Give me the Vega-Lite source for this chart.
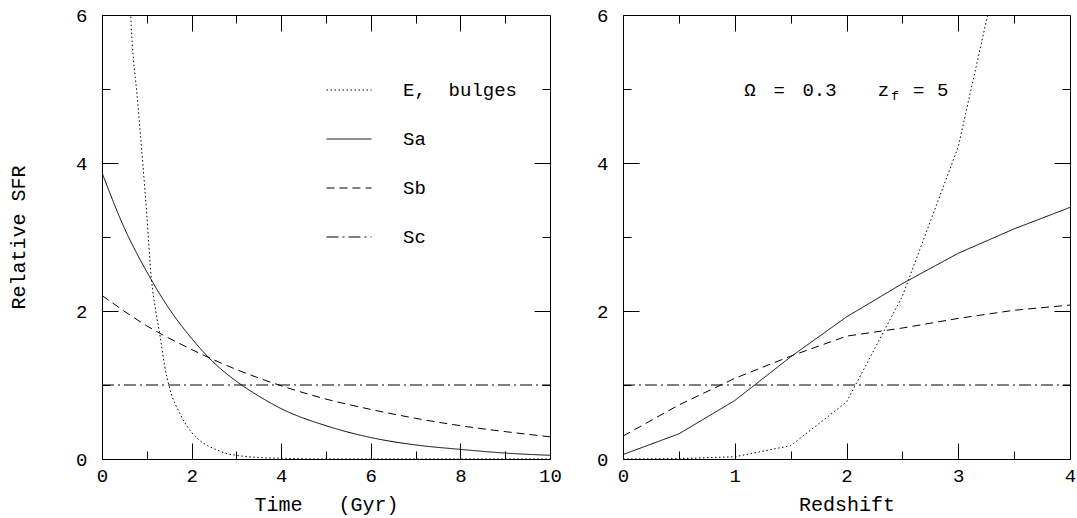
{
  "$schema": "https://vega.github.io/schema/vega-lite/v6.json",
  "background": "white",
  "padding": {"left": 8, "top": 5, "right": 1, "bottom": 2},
  "bounds": "flush",
  "spacing": 73,
  "config": {
    "font": "Liberation Mono",
    "view": {"stroke": "black", "strokeWidth": 1},
    "axis": {
      "grid": false, "domain": false,
      "labelFont": "Liberation Mono", "labelFontSize": 19, "labelColor": "black",
      "titleFont": "Liberation Mono", "titleFontSize": 20, "titleFontWeight": "normal", "titleColor": "black",
      "tickColor": "black", "tickWidth": 1
    },
    "text": {"font": "Liberation Mono", "color": "black"}
  },
  "datasets": {
    "time": [
      {"series": "E, bulges", "x": 0, "y": 23},
      {"series": "E, bulges", "x": 0.25, "y": 13.5},
      {"series": "E, bulges", "x": 0.5, "y": 8.5},
      {"series": "E, bulges", "x": 0.64, "y": 6.0},
      {"series": "E, bulges", "x": 0.8, "y": 4.8},
      {"series": "E, bulges", "x": 0.91, "y": 4.0},
      {"series": "E, bulges", "x": 1.0, "y": 3.3},
      {"series": "E, bulges", "x": 1.1, "y": 2.45},
      {"series": "E, bulges", "x": 1.2, "y": 2.0},
      {"series": "E, bulges", "x": 1.3, "y": 1.65},
      {"series": "E, bulges", "x": 1.4, "y": 1.25},
      {"series": "E, bulges", "x": 1.5, "y": 0.98},
      {"series": "E, bulges", "x": 1.75, "y": 0.6},
      {"series": "E, bulges", "x": 2.0, "y": 0.36},
      {"series": "E, bulges", "x": 2.25, "y": 0.22},
      {"series": "E, bulges", "x": 2.5, "y": 0.14},
      {"series": "E, bulges", "x": 2.75, "y": 0.08},
      {"series": "E, bulges", "x": 3.0, "y": 0.05},
      {"series": "E, bulges", "x": 3.5, "y": 0.02},
      {"series": "E, bulges", "x": 4, "y": 0.01},
      {"series": "E, bulges", "x": 5, "y": 0},
      {"series": "E, bulges", "x": 6, "y": 0},
      {"series": "E, bulges", "x": 7, "y": 0},
      {"series": "E, bulges", "x": 8, "y": 0},
      {"series": "E, bulges", "x": 9, "y": 0},
      {"series": "E, bulges", "x": 10, "y": 0},
      {"series": "Sa", "x": 0, "y": 3.87},
      {"series": "Sa", "x": 0.5, "y": 3.12},
      {"series": "Sa", "x": 1, "y": 2.53},
      {"series": "Sa", "x": 1.5, "y": 2.03},
      {"series": "Sa", "x": 2, "y": 1.63},
      {"series": "Sa", "x": 2.5, "y": 1.30},
      {"series": "Sa", "x": 3, "y": 1.05},
      {"series": "Sa", "x": 3.5, "y": 0.85},
      {"series": "Sa", "x": 4, "y": 0.68},
      {"series": "Sa", "x": 5, "y": 0.45},
      {"series": "Sa", "x": 6, "y": 0.29},
      {"series": "Sa", "x": 7, "y": 0.19},
      {"series": "Sa", "x": 8, "y": 0.13},
      {"series": "Sa", "x": 9, "y": 0.08},
      {"series": "Sa", "x": 10, "y": 0.05},
      {"series": "Sb", "x": 0, "y": 2.21},
      {"series": "Sb", "x": 1, "y": 1.80},
      {"series": "Sb", "x": 2, "y": 1.48},
      {"series": "Sb", "x": 3, "y": 1.21},
      {"series": "Sb", "x": 4, "y": 0.99},
      {"series": "Sb", "x": 5, "y": 0.81},
      {"series": "Sb", "x": 6, "y": 0.67},
      {"series": "Sb", "x": 7, "y": 0.55},
      {"series": "Sb", "x": 8, "y": 0.45},
      {"series": "Sb", "x": 9, "y": 0.37},
      {"series": "Sb", "x": 10, "y": 0.30},
      {"series": "Sc", "x": 0, "y": 1},
      {"series": "Sc", "x": 10, "y": 1}
    ],
    "redshift": [
      {"series": "E, bulges", "x": 0, "y": 0},
      {"series": "E, bulges", "x": 0.5, "y": 0.005},
      {"series": "E, bulges", "x": 1, "y": 0.03},
      {"series": "E, bulges", "x": 1.5, "y": 0.18},
      {"series": "E, bulges", "x": 2, "y": 0.77},
      {"series": "E, bulges", "x": 2.5, "y": 2.2},
      {"series": "E, bulges", "x": 3, "y": 4.22},
      {"series": "E, bulges", "x": 3.5, "y": 7.6},
      {"series": "E, bulges", "x": 4, "y": 12},
      {"series": "Sa", "x": 0, "y": 0.06},
      {"series": "Sa", "x": 0.5, "y": 0.34},
      {"series": "Sa", "x": 1, "y": 0.79},
      {"series": "Sa", "x": 1.5, "y": 1.38},
      {"series": "Sa", "x": 2, "y": 1.92},
      {"series": "Sa", "x": 2.5, "y": 2.37},
      {"series": "Sa", "x": 3, "y": 2.78},
      {"series": "Sa", "x": 3.5, "y": 3.11},
      {"series": "Sa", "x": 4, "y": 3.40},
      {"series": "Sb", "x": 0, "y": 0.31},
      {"series": "Sb", "x": 0.5, "y": 0.73},
      {"series": "Sb", "x": 1, "y": 1.09},
      {"series": "Sb", "x": 1.5, "y": 1.39},
      {"series": "Sb", "x": 2, "y": 1.66},
      {"series": "Sb", "x": 2.5, "y": 1.77},
      {"series": "Sb", "x": 3, "y": 1.90},
      {"series": "Sb", "x": 3.5, "y": 2.01},
      {"series": "Sb", "x": 4, "y": 2.08},
      {"series": "Sc", "x": 0, "y": 1},
      {"series": "Sc", "x": 4, "y": 1}
    ],
    "note": [
      {"x": 1.086, "y": 5, "text": "Ω"},
      {"x": 1.346, "y": 5, "text": "="},
      {"x": 1.606, "y": 5, "text": "0.3"},
      {"x": 2.28, "y": 5, "text": "z"},
      {"x": 2.595, "y": 5, "text": "="},
      {"x": 2.81, "y": 5, "text": "5"}
    ],
    "sub": [
      {"x": 2.40, "y": 5, "text": "f"}
    ]
  },
  "resolve": {"scale": {"strokeDash": "independent"}, "legend": {"strokeDash": "independent"}},
  "hconcat": [
    {
      "width": 448, "height": 444,
      "data": {"name": "time"},
      "resolve": {"axis": {"x": "independent", "y": "independent"}},
      "layer": [
        {
          "mark": {"type": "line", "clip": true, "color": "black", "strokeWidth": 1, "interpolate": "monotone"},
          "encoding": {
            "x": {"field": "x", "type": "quantitative", "scale": {"domain": [0, 10], "nice": false, "zero": false},
                  "axis": {"orient": "bottom", "ticks": false, "values": [0, 2, 4, 6, 8, 10], "labelPadding": 7, "labelFlush": false, "labelOverlap": false, "labelBaseline": "top", "title": "Time\u00a0\u00a0\u00a0(Gyr)", "titlePadding": 9}},
            "y": {"field": "y", "type": "quantitative", "scale": {"domain": [0, 6], "nice": false, "zero": false},
                  "axis": {"orient": "left", "ticks": false, "values": [0, 2, 4, 6], "labelPadding": 15, "labelOverlap": false, "title": "Relative SFR", "titlePadding": 47}},
            "strokeDash": {"field": "series", "type": "nominal", "sort": null,
                           "scale": {"domain": ["E, bulges", "Sa", "Sb", "Sc"], "range": [[1.5, 2.5], [1, 0], [8, 5], [12, 4, 2, 4]]},
                           "legend": {"orient": "none", "legendX": 224, "legendY": 52, "title": null, "symbolType": "stroke", "symbolSize": 2025, "symbolStrokeColor": "black", "symbolStrokeWidth": 1, "labelFont": "Liberation Mono", "labelFontSize": 19, "labelColor": "black", "labelOffset": 31, "rowPadding": 16, "padding": 0,
                                      "labelExpr": "datum.label === 'E, bulges' ? 'E,\u00a0\u00a0bulges' : datum.label"}}
          }
        },
        {
          "transform": [{"filter": "datum.series === 'Sc'"}],
          "mark": {"type": "point", "opacity": 0},
          "encoding": {
            "x": {"field": "x", "type": "quantitative", "scale": {"domain": [0, 10], "nice": false, "zero": false},
                  "axis": {"orient": "bottom", "labels": false, "title": null, "values": [0, 2, 4, 6, 8, 10], "tickSize": -16}},
            "y": {"field": "y", "type": "quantitative", "scale": {"domain": [0, 6], "nice": false, "zero": false},
                  "axis": {"orient": "left", "labels": false, "title": null, "values": [0, 2, 4, 6], "tickSize": -16}}
          }
        },
        {
          "transform": [{"filter": "datum.series === 'Sc'"}],
          "mark": {"type": "point", "opacity": 0},
          "encoding": {
            "x": {"field": "x", "type": "quantitative", "scale": {"domain": [0, 10], "nice": false, "zero": false},
                  "axis": {"orient": "bottom", "labels": false, "title": null, "values": [1, 3, 5, 7, 9], "tickSize": -8}},
            "y": {"field": "y", "type": "quantitative", "scale": {"domain": [0, 6], "nice": false, "zero": false},
                  "axis": {"orient": "left", "labels": false, "title": null, "values": [1, 3, 5], "tickSize": -8}}
          }
        },
        {
          "transform": [{"filter": "datum.series === 'Sc'"}],
          "mark": {"type": "point", "opacity": 0},
          "encoding": {
            "x": {"field": "x", "type": "quantitative", "scale": {"domain": [0, 10], "nice": false, "zero": false},
                  "axis": {"orient": "top", "labels": false, "title": null, "values": [0, 2, 4, 6, 8, 10], "tickSize": -16}},
            "y": {"field": "y", "type": "quantitative", "scale": {"domain": [0, 6], "nice": false, "zero": false},
                  "axis": {"orient": "right", "labels": false, "title": null, "values": [0, 2, 4, 6], "tickSize": -16}}
          }
        },
        {
          "transform": [{"filter": "datum.series === 'Sc'"}],
          "mark": {"type": "point", "opacity": 0},
          "encoding": {
            "x": {"field": "x", "type": "quantitative", "scale": {"domain": [0, 10], "nice": false, "zero": false},
                  "axis": {"orient": "top", "labels": false, "title": null, "values": [1, 3, 5, 7, 9], "tickSize": -8}},
            "y": {"field": "y", "type": "quantitative", "scale": {"domain": [0, 6], "nice": false, "zero": false},
                  "axis": {"orient": "right", "labels": false, "title": null, "values": [1, 3, 5], "tickSize": -8}}
          }
        }
      ]
    },
    {
      "width": 447, "height": 444,
      "data": {"name": "redshift"},
      "resolve": {"axis": {"x": "independent", "y": "independent"}},
      "layer": [
        {
          "mark": {"type": "line", "clip": true, "color": "black", "strokeWidth": 1},
          "encoding": {
            "x": {"field": "x", "type": "quantitative", "scale": {"domain": [0, 4], "nice": false, "zero": false},
                  "axis": {"orient": "bottom", "ticks": false, "values": [0, 1, 2, 3, 4], "labelPadding": 7, "labelFlush": false, "labelOverlap": false, "labelBaseline": "top", "title": "Redshift", "titlePadding": 9}},
            "y": {"field": "y", "type": "quantitative", "scale": {"domain": [0, 6], "nice": false, "zero": false},
                  "axis": {"orient": "left", "ticks": false, "values": [0, 2, 4, 6], "labelPadding": 15, "labelOverlap": false, "title": null}},
            "strokeDash": {"field": "series", "type": "nominal", "sort": null,
                           "scale": {"domain": ["E, bulges", "Sa", "Sb", "Sc"], "range": [[1.5, 2.5], [1, 0], [8, 5], [12, 4, 2, 4]]},
                           "legend": null}
          }
        },
        {
          "transform": [{"filter": "datum.series === 'Sc'"}],
          "mark": {"type": "point", "opacity": 0},
          "encoding": {
            "x": {"field": "x", "type": "quantitative", "scale": {"domain": [0, 4], "nice": false, "zero": false},
                  "axis": {"orient": "bottom", "labels": false, "title": null, "values": [0, 1, 2, 3, 4], "tickSize": -16}},
            "y": {"field": "y", "type": "quantitative", "scale": {"domain": [0, 6], "nice": false, "zero": false},
                  "axis": {"orient": "left", "labels": false, "title": null, "values": [0, 2, 4, 6], "tickSize": -16}}
          }
        },
        {
          "transform": [{"filter": "datum.series === 'Sc'"}],
          "mark": {"type": "point", "opacity": 0},
          "encoding": {
            "x": {"field": "x", "type": "quantitative", "scale": {"domain": [0, 4], "nice": false, "zero": false},
                  "axis": {"orient": "bottom", "labels": false, "title": null, "values": [0.5, 1.5, 2.5, 3.5], "tickSize": -8}},
            "y": {"field": "y", "type": "quantitative", "scale": {"domain": [0, 6], "nice": false, "zero": false},
                  "axis": {"orient": "left", "labels": false, "title": null, "values": [1, 3, 5], "tickSize": -8}}
          }
        },
        {
          "transform": [{"filter": "datum.series === 'Sc'"}],
          "mark": {"type": "point", "opacity": 0},
          "encoding": {
            "x": {"field": "x", "type": "quantitative", "scale": {"domain": [0, 4], "nice": false, "zero": false},
                  "axis": {"orient": "top", "labels": false, "title": null, "values": [0, 1, 2, 3, 4], "tickSize": -16}},
            "y": {"field": "y", "type": "quantitative", "scale": {"domain": [0, 6], "nice": false, "zero": false},
                  "axis": {"orient": "right", "labels": false, "title": null, "values": [0, 2, 4, 6], "tickSize": -16}}
          }
        },
        {
          "transform": [{"filter": "datum.series === 'Sc'"}],
          "mark": {"type": "point", "opacity": 0},
          "encoding": {
            "x": {"field": "x", "type": "quantitative", "scale": {"domain": [0, 4], "nice": false, "zero": false},
                  "axis": {"orient": "top", "labels": false, "title": null, "values": [0.5, 1.5, 2.5, 3.5], "tickSize": -8}},
            "y": {"field": "y", "type": "quantitative", "scale": {"domain": [0, 6], "nice": false, "zero": false},
                  "axis": {"orient": "right", "labels": false, "title": null, "values": [1, 3, 5], "tickSize": -8}}
          }
        },
        {
          "data": {"name": "note"},
          "mark": {"type": "text", "align": "left", "baseline": "middle", "fontSize": 19, "font": "Liberation Mono", "color": "black", "dy": 1},
          "encoding": {
            "x": {"field": "x", "type": "quantitative", "scale": {"domain": [0, 4], "nice": false, "zero": false}, "axis": null},
            "y": {"field": "y", "type": "quantitative", "scale": {"domain": [0, 6], "nice": false, "zero": false}, "axis": null},
            "text": {"field": "text"}
          }
        },
        {
          "data": {"name": "sub"},
          "mark": {"type": "text", "align": "left", "baseline": "middle", "fontSize": 13, "font": "Liberation Mono", "color": "black", "dy": 7},
          "encoding": {
            "x": {"field": "x", "type": "quantitative", "scale": {"domain": [0, 4], "nice": false, "zero": false}, "axis": null},
            "y": {"field": "y", "type": "quantitative", "scale": {"domain": [0, 6], "nice": false, "zero": false}, "axis": null},
            "text": {"field": "text"}
          }
        }
      ]
    }
  ]
}
